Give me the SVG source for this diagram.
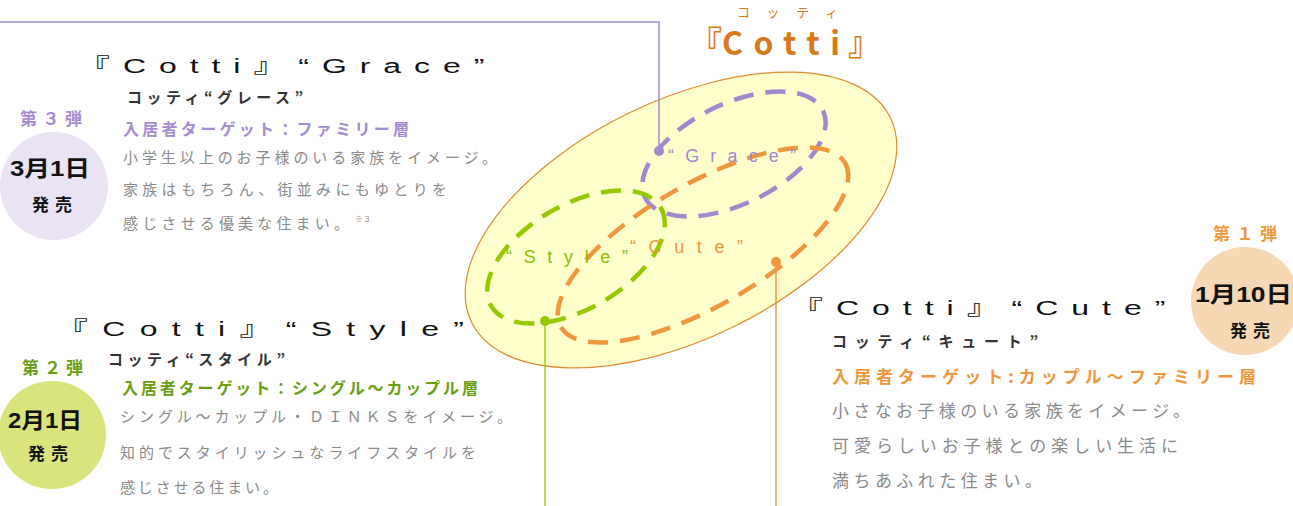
<svg xmlns="http://www.w3.org/2000/svg" width="1293" height="506" viewBox="0 0 1293 506">
<style>
text{font-family:"Noto Sans CJK JP","Liberation Sans",sans-serif;}
.ttl{font-family:"Liberation Sans","Noto Sans CJK JP",sans-serif;font-size:20px;fill:#111;}
.sub{font-size:15px;font-weight:bold;fill:#333;}
.body{font-size:15px;fill:#8a8a8a;}
.bodyL{font-size:17px;fill:#8a8a8a;}
.date{font-family:"Liberation Sans","Noto Sans CJK JP",sans-serif;font-size:22px;font-weight:bold;fill:#111;}
.sale{font-size:17px;font-weight:bold;fill:#111;}
.lbl{font-family:"Liberation Sans",sans-serif;font-size:18px;}
.dash{fill:none;stroke-width:4.5;stroke-dasharray:20 12;}
</style>
<rect width="1293" height="506" fill="#fff"/>

<g id="cotti-set">
<ellipse cx="681" cy="220" rx="233" ry="119" transform="rotate(-26 681 220)" fill="#ffffcc" stroke="#e08a30" stroke-width="1.2"/>
<ellipse cx="734" cy="154" rx="99" ry="50" transform="rotate(-26 734 154)" class="dash" stroke="#9f88d0"/>
<ellipse cx="703" cy="245" rx="164" ry="61" transform="rotate(-30 703 245)" class="dash" stroke="#f0963c"/>
<ellipse cx="576" cy="257" rx="98" ry="52" transform="rotate(-30 576 257)" class="dash" stroke="#96c800"/>
<text class="lbl" x="668" y="162" fill="#9f88d0" textLength="128" lengthAdjust="spacing">“Grace”</text>
<text class="lbl" x="506" y="263" fill="#8cc000" textLength="122" lengthAdjust="spacing">“Style”</text>
<text class="lbl" x="630" y="253" fill="#f0963c" textLength="113" lengthAdjust="spacing">“Cute”</text>
</g>

<g id="title" fill="#d97a1a">
<text x="689" y="55" font-size="33" font-weight="bold">『</text>
<text x="722" y="55" font-family="Liberation Sans,sans-serif" font-size="32" font-weight="bold" textLength="118" lengthAdjust="spacing">Cotti</text>
<text x="848" y="55" font-size="33" font-weight="bold">』</text>
<text x="737" y="17" font-size="13" textLength="101" lengthAdjust="spacing">コッティ</text>
</g>

<g id="connectors" fill="none" stroke-width="1.5">
<polyline points="0,22 659,22 659,151" stroke="#a08ad0"/>
<line x1="545" y1="321" x2="545" y2="506" stroke="#9ccc20"/>
<line x1="776" y1="262" x2="776" y2="506" stroke="#f0963c"/>
<circle cx="659" cy="151" r="5" fill="#a08ad0" stroke="none"/>
<circle cx="545" cy="321" r="5" fill="#96c800" stroke="none"/>
<circle cx="776" cy="262" r="5" fill="#f0963c" stroke="none"/>
</g>

<g id="grace">
<text class="ttl" transform="translate(78 73) scale(1.6 1)" x="0" y="0" textLength="254" lengthAdjust="spacing">『Cotti』“Grace”</text>
<text class="sub" x="127" y="103" textLength="176" lengthAdjust="spacing">コッティ“グレース”</text>
<text x="20" y="125" font-size="17" font-weight="bold" fill="#a58bd3" textLength="62" lengthAdjust="spacing">第３弾</text>
<text x="123" y="135" font-size="16" font-weight="bold" fill="#a58bd3" textLength="286" lengthAdjust="spacing">入居者ターゲット：ファミリー層</text>
<text class="body" x="123" y="163" textLength="374" lengthAdjust="spacing">小学生以上のお子様のいる家族をイメージ。</text>
<text class="body" x="123" y="195" textLength="324" lengthAdjust="spacing">家族はもちろん、街並みにもゆとりを</text>
<text class="body" x="123" y="229" textLength="226" lengthAdjust="spacing">感じさせる優美な住まい。</text>
<text x="355" y="222" font-size="8" fill="#8a8a8a">※３</text>
<circle cx="54" cy="186" r="54" fill="#e9e3f3"/>
<text class="date" x="10" y="176" textLength="80" lengthAdjust="spacingAndGlyphs">3月1日</text>
<text class="sale" x="32" y="211" textLength="40" lengthAdjust="spacing">発売</text>
</g>

<g id="style">
<text class="ttl" transform="translate(56 336) scale(1.6 1)" x="0" y="0" textLength="255" lengthAdjust="spacing">『Cotti』“Style”</text>
<text class="sub" x="108" y="365" textLength="177" lengthAdjust="spacing">コッティ“スタイル”</text>
<text x="22" y="374" font-size="17" font-weight="bold" fill="#6a9e12" textLength="61" lengthAdjust="spacing">第２弾</text>
<text x="122" y="394" font-size="16" font-weight="bold" fill="#6a9e12" textLength="356" lengthAdjust="spacing">入居者ターゲット：シングル～カップル層</text>
<text class="body" x="120" y="422" textLength="392" lengthAdjust="spacing">シングル～カップル・ＤＩＮＫＳをイメージ。</text>
<text class="body" x="120" y="458" textLength="356" lengthAdjust="spacing">知的でスタイリッシュなライフスタイルを</text>
<text class="body" x="120" y="493" textLength="158" lengthAdjust="spacing">感じさせる住まい。</text>
<circle cx="52" cy="435" r="54" fill="#d9e57c"/>
<text class="date" x="8" y="428" textLength="74" lengthAdjust="spacingAndGlyphs">2月1日</text>
<text class="sale" x="28" y="460" textLength="40" lengthAdjust="spacing">発売</text>
</g>

<g id="cute">
<text class="ttl" transform="translate(791 315) scale(1.6 1)" x="0" y="0" textLength="234" lengthAdjust="spacing">『Cotti』“Cute”</text>
<text class="sub" x="832" y="347" font-size="17" textLength="206" lengthAdjust="spacing">コッティ“キュート”</text>
<text x="1213" y="240" font-size="17" font-weight="bold" fill="#f0963c" textLength="64" lengthAdjust="spacing">第１弾</text>
<text x="832" y="383" font-size="17" font-weight="bold" fill="#f0963c" textLength="424" lengthAdjust="spacing">入居者ターゲット:カップル～ファミリー層</text>
<text class="bodyL" x="832" y="417" textLength="358" lengthAdjust="spacing">小さなお子様のいる家族をイメージ。</text>
<text class="bodyL" x="832" y="452" textLength="346" lengthAdjust="spacing">可愛らしいお子様との楽しい生活に</text>
<text class="bodyL" x="832" y="487" textLength="210" lengthAdjust="spacing">満ちあふれた住まい。</text>
<circle cx="1245" cy="301" r="54" fill="#f7d8b4"/>
<text class="date" x="1195" y="302" textLength="97" lengthAdjust="spacingAndGlyphs">1月10日</text>
<text class="sale" x="1230" y="337" textLength="40" lengthAdjust="spacing">発売</text>
</g>
</svg>
